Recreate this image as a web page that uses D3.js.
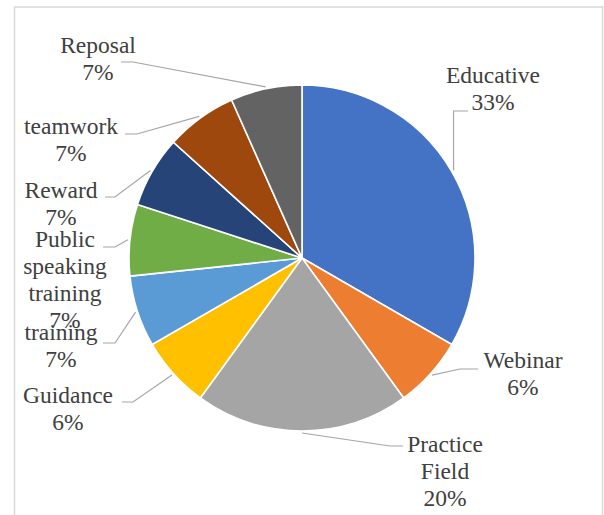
<!DOCTYPE html>
<html>
<head>
<meta charset="utf-8">
<script src="https://cdn.jsdelivr.net/npm/d3@7"></script>
<style>
  body { margin: 0; background: #fff; }
</style>
</head>
<body>
<div id="chart"></div>
<script>
// data (slices are 5/15, 1/15, 3/15 ...)
var categories = ["Educative", "Webinar", "Practice Field", "Guidance", "training",
                  "Public speaking training", "Reward", "teamwork", "Reposal"];
var values = [5, 1, 3, 1, 1, 1, 1, 1, 1];
var pctLabels = ["33%", "6%", "20%", "6%", "7%", "7%", "7%", "7%", "7%"];
var labelLines = [["Educative"], ["Webinar"], ["Practice", "Field"], ["Guidance"], ["training"],
                  ["Public", "speaking", "training"], ["Reward"], ["teamwork"], ["Reposal"]];
var colors = ["#4472C4", "#ED7D31", "#A5A5A5", "#FFC000", "#5B9BD5",
              "#70AD47", "#264478", "#9E480E", "#636363"];

// layout of the labels (page coords): centre x, first baseline, leader end + elbow
var labelLayout = [
  {cx: 493, y: 83,  ex: 468, ey: 111, elbow: "vertical"},
  {cx: 523, y: 368, ex: 478, ey: 369, ox: 460},
  {cx: 445, y: 452, ex: 403, ey: 446, ox: 390},
  {cx: 68,  y: 403, ex: 122, ey: 402, ox: 133},
  {cx: 61,  y: 340, ex: 103, ey: 343, ox: 115},
  {cx: 65,  y: 247, ex: 103, ey: 247, ox: 115},
  {cx: 61,  y: 198, ex: 105, ey: 197, ox: 115},
  {cx: 71,  y: 134, ex: 125, ey: 134, ox: 137},
  {cx: 98,  y: 53,  ex: 121, ey: 62,  ox: 133}
];

var width = 604, height = 515,
    cx = 302, cy = 258, radius = 173,
    lineH = 27;

var svg = d3.select("#chart").append("svg")
  .attr("width", width)
  .attr("height", height);

// chart area border
svg.append("rect")
  .attr("x", 14.5).attr("y", 7)
  .attr("width", 588).attr("height", 600)
  .style("fill", "none")
  .style("stroke", "#d9d9d9")
  .style("stroke-width", 1.5);

var pie = d3.pie().sort(null).value(function(d) { return d; });
var arcs = pie(values);

var arc = d3.arc().innerRadius(0).outerRadius(radius);

var g = svg.append("g")
  .attr("transform", "translate(" + cx + "," + cy + ")");

g.selectAll("path.slice")
  .data(arcs)
  .enter()
  .append("path")
  .attr("class", "slice")
  .attr("d", arc)
  .style("fill", function(d, i) { return colors[i]; })
  .style("stroke", "#fff")
  .style("stroke-width", 1.6);

// leader lines
svg.selectAll("polyline.leader")
  .data(arcs)
  .enter()
  .append("polyline")
  .attr("class", "leader")
  .attr("points", function(d, i) {
    var L = labelLayout[i];
    var mid = (d.startAngle + d.endAngle) / 2;
    var p = d3.pointRadial(mid, radius + 2);
    var sx = cx + p[0], sy = cy + p[1];
    var elbow = L.elbow === "vertical" ? [sx, L.ey] : [L.ox, L.ey];
    return [[sx, sy], elbow, [L.ex, L.ey]].map(function(q) { return q.join(","); }).join(" ");
  })
  .style("fill", "none")
  .style("stroke", "#a6a6a6")
  .style("stroke-width", 1.2);

// labels
var labels = svg.selectAll("text.lbl")
  .data(arcs)
  .enter()
  .append("text")
  .attr("class", "lbl")
  .attr("text-anchor", "middle")
  .style("font-family", "'Liberation Serif', 'Times New Roman', serif")
  .style("font-size", "23.5px")
  .style("fill", "#404040");

labels.each(function(d, i) {
  var L = labelLayout[i];
  var lines = labelLines[i].concat([pctLabels[i]]);
  var t = d3.select(this);
  lines.forEach(function(s, k) {
    t.append("tspan")
      .attr("x", L.cx)
      .attr("y", L.y + k * lineH)
      .text(s);
  });
});
</script>
</body>
</html>
